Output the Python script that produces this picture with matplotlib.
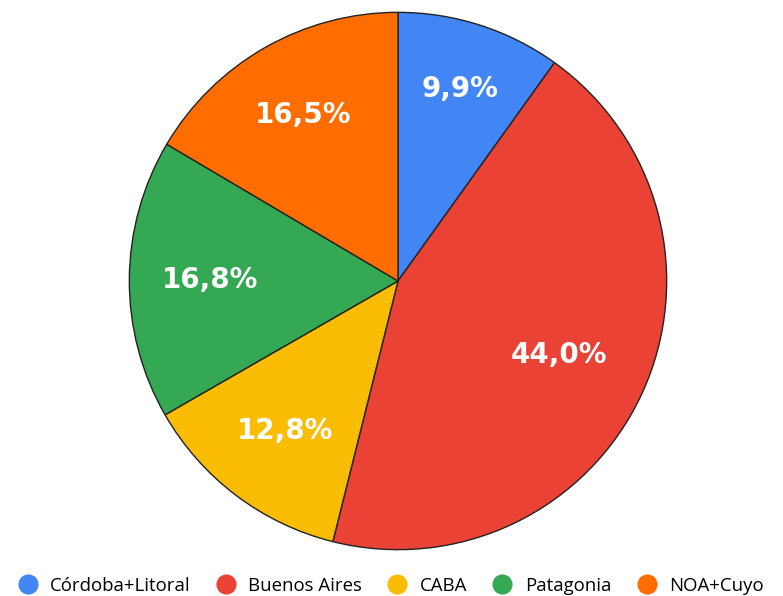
import numpy as np
import matplotlib.pyplot as plt
from matplotlib.lines import Line2D

regions = ['Córdoba+Litoral', 'Buenos Aires', 'CABA', 'Patagonia', 'NOA+Cuyo']
shares = [9.9, 44.0, 12.8, 16.8, 16.5]
colors = ['#4285F4', '#EA4335', '#FBBC04', '#34A853', '#FF6D01']

W, H = 783, 596
fig = plt.figure(figsize=(W / 100, H / 100), dpi=100)

# pie centred at (398, 281) px with a 270 px radius
cx, cy, r = 398, 281, 270
ax = fig.add_axes([(cx - r) / W, (H - cy - r) / H, 2 * r / W, 2 * r / H])

wedges, texts, autotexts = ax.pie(
    shares, colors=colors, startangle=90, counterclock=False,
    autopct=lambda p: f'{p:.1f}%'.replace('.', ','), pctdistance=0.7,
    wedgeprops=dict(edgecolor='#222222', linewidth=1.0),
    textprops=dict(color='white', fontsize=20, fontweight='heavy',
                   family='DejaVu Sans'))

# labels sit a little further out in narrow slices, closer in the big one
label_dist = [0.75, 0.66, 0.70, 0.70, 0.71]
for w, t, d in zip(wedges, autotexts, label_dist):
    ang = np.deg2rad((w.theta1 + w.theta2) / 2)
    t.set_position((d * np.cos(ang), d * np.sin(ang)))

ax.set_xlim(-1.005, 1.005)
ax.set_ylim(-1.005, 1.005)
ax.set_aspect('equal')
ax.axis('off')

handles = [Line2D([], [], marker='o', linestyle='', markersize=13.5,
                  markerfacecolor=c, markeredgecolor=c) for c in colors]
fig.legend(handles, regions, loc='center', bbox_to_anchor=(0.498, 10 / H),
           ncol=5, frameon=False, handletextpad=0.6, columnspacing=1.3,
           prop=dict(family='Open Sans', size=13.4), handlelength=1.2)

fig.savefig('out.png', dpi=100, facecolor='white')
